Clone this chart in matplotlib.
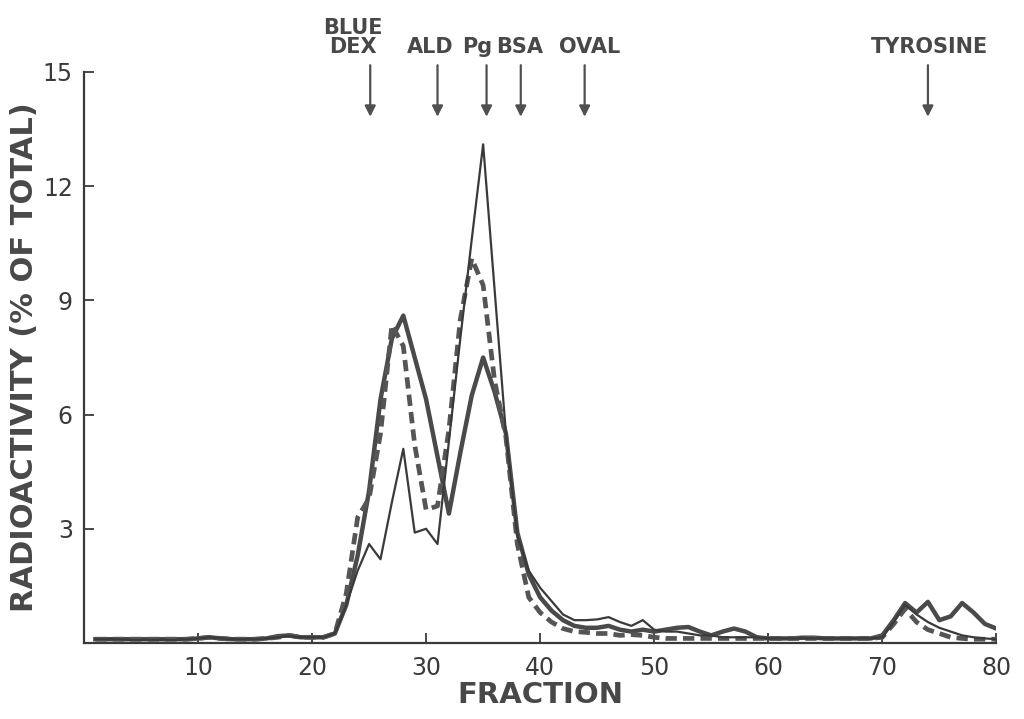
import matplotlib
matplotlib.use( 'Agg' )
import matplotlib.pyplot as plt

# fraction numbers 1..80
fractions = list( range( 1 , 81 ) )

# thin solid line (tall peak at fraction 35)
thin_values = [ 0.10 , 0.10 , 0.10 , 0.08 , 0.08 , 0.08 , 0.08 , 0.08 , 0.10 , 0.12 ,
                0.15 , 0.12 , 0.10 , 0.10 , 0.10 , 0.12 , 0.15 , 0.18 , 0.15 , 0.15 ,
                0.15 , 0.25 , 1.00 , 1.90 , 2.60 , 2.20 , 3.70 , 5.10 , 2.90 , 3.00 ,
                2.60 , 5.30 , 8.00 , 10.60 , 13.10 , 9.30 , 5.50 , 2.80 , 1.90 , 1.45 ,
                1.10 , 0.75 , 0.60 , 0.60 , 0.62 , 0.68 , 0.55 , 0.45 , 0.60 , 0.35 ,
                0.30 , 0.30 , 0.25 , 0.20 , 0.20 , 0.15 , 0.15 , 0.15 , 0.15 , 0.12 ,
                0.12 , 0.12 , 0.12 , 0.12 , 0.12 , 0.12 , 0.12 , 0.12 , 0.12 , 0.15 ,
                0.55 , 1.00 , 0.75 , 0.55 , 0.40 , 0.30 , 0.20 , 0.15 , 0.12 , 0.10 ]

# thick solid line (two peaks, tyrosine peaks at the end)
thick_values = [ 0.10 , 0.10 , 0.10 , 0.10 , 0.10 , 0.10 , 0.10 , 0.10 , 0.10 , 0.12 ,
                 0.15 , 0.12 , 0.10 , 0.10 , 0.10 , 0.12 , 0.18 , 0.20 , 0.15 , 0.15 ,
                 0.15 , 0.25 , 1.00 , 2.30 , 4.00 , 6.40 , 8.00 , 8.60 , 7.50 , 6.40 ,
                 4.90 , 3.40 , 5.00 , 6.50 , 7.50 , 6.60 , 5.50 , 2.90 , 1.80 , 1.20 ,
                 0.85 , 0.60 , 0.45 , 0.40 , 0.40 , 0.45 , 0.35 , 0.30 , 0.35 , 0.30 ,
                 0.35 , 0.40 , 0.42 , 0.30 , 0.20 , 0.30 , 0.38 , 0.30 , 0.15 , 0.12 ,
                 0.12 , 0.12 , 0.14 , 0.14 , 0.12 , 0.12 , 0.12 , 0.12 , 0.12 , 0.20 ,
                 0.60 , 1.05 , 0.80 , 1.08 , 0.60 , 0.70 , 1.05 , 0.80 , 0.50 , 0.38 ]

# thick dashed line
dashed_values = [ 0.10 , 0.10 , 0.10 , 0.10 , 0.10 , 0.10 , 0.10 , 0.10 , 0.10 , 0.12 ,
                  0.15 , 0.12 , 0.10 , 0.10 , 0.10 , 0.12 , 0.15 , 0.20 , 0.15 , 0.15 ,
                  0.15 , 0.25 , 1.30 , 3.30 , 3.80 , 5.50 , 8.35 , 7.80 , 5.20 , 3.50 ,
                  3.60 , 5.60 , 8.50 , 10.10 , 9.40 , 6.90 , 5.40 , 2.60 , 1.20 , 0.80 ,
                  0.55 , 0.38 , 0.30 , 0.28 , 0.25 , 0.25 , 0.20 , 0.22 , 0.20 , 0.15 ,
                  0.12 , 0.12 , 0.12 , 0.12 , 0.12 , 0.12 , 0.12 , 0.12 , 0.12 , 0.12 ,
                  0.12 , 0.12 , 0.12 , 0.12 , 0.12 , 0.12 , 0.12 , 0.12 , 0.12 , 0.15 ,
                  0.50 , 0.90 , 0.55 , 0.35 , 0.25 , 0.15 , 0.12 , 0.10 , 0.10 , 0.10 ]

x_ticks = [ 10 , 20 , 30 , 40 , 50 , 60 , 70 , 80 ]
y_ticks = [ 3 , 6 , 9 , 12 , 15 ]

# marker proteins: label , fraction
marker_labels = [ 'BLUE\nDEX' , 'ALD' , 'Pg' , 'BSA' , 'OVAL' , 'TYROSINE' ]
marker_fractions = [ 25.1 , 31.0 , 35.3 , 38.3 , 43.9 , 74.0 ]
label_offsets = [ -1.5 , -0.6 , -0.8 , -0.1 , 0.4 , 0.1 ]

INK = '#3a3a3a'
LINE = '#4a4a4a'

fig = plt.figure( figsize=(10.24 , 7.19) , dpi=100 )
ax = fig.add_axes( [ 0.082 , 0.1057 , 0.891 , 0.7942 ] )

ax.plot( fractions , thick_values , color=LINE , lw=3.2 , solid_joinstyle='round' )
ax.plot( fractions , dashed_values , color='#555555' , lw=3.4 , linestyle=(0 , (2.4 , 1.3)) )
ax.plot( fractions , thin_values , color=INK , lw=1.6 )

ax.set_xlim( 0 , 80 )
ax.set_ylim( 0 , 15 )
ax.set_xticks( x_ticks )
ax.set_yticks( y_ticks )
ax.tick_params( axis='both' , direction='in' , colors=INK , labelsize=17 , width=1.3 , length=7 )
ax.tick_params( axis='x' , pad=9 )
ax.tick_params( axis='y' , pad=8 )

for side in [ 'top' , 'right' ] :
    ax.spines[ side ].set_visible( False )
for side in [ 'left' , 'bottom' ] :
    ax.spines[ side ].set_color( INK )
    ax.spines[ side ].set_linewidth( 1.6 )

ax.set_xlabel( 'FRACTION' , fontsize=21 , fontweight='bold' , color='#484848' , labelpad=1 )
ax.set_ylabel( 'RADIOACTIVITY (% OF TOTAL)' , fontsize=22 , fontweight='bold' ,
               color='#484848' , labelpad=3 )

# arrows above the plot
for label , frac , off in zip( marker_labels , marker_fractions , label_offsets ) :
    ax.annotate( '' , xy=(frac , 13.75) , xytext=(frac , 15.25) ,
                 arrowprops=dict( arrowstyle='-|>' , color='#505050' , lw=1.6 ,
                                  mutation_scale=16 ) ,
                 annotation_clip=False )
    ax.text( frac + off , 15.4 , label , ha='center' , va='bottom' , fontsize=15 ,
             fontweight='bold' , color='#484848' , linespacing=0.95 , clip_on=False )

fig.savefig( 'out.png' , dpi=100 , facecolor='white' )
